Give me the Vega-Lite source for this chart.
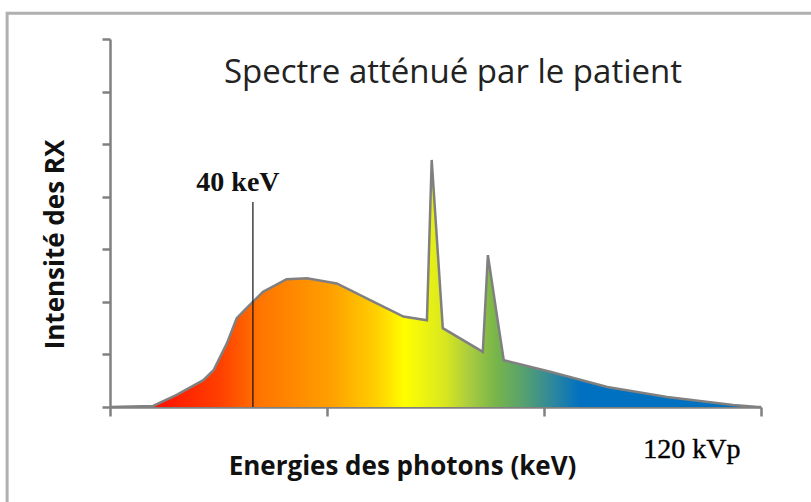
{
  "$schema": "https://vega.github.io/schema/vega-lite/v6.json",
  "width": 651,
  "height": 368,
  "autosize": {"type": "none"},
  "padding": {"left": 110, "top": 39, "right": 50, "bottom": 95},
  "background": "white",
  "config": {"view": {"stroke": null}},
  "layer": [
    {
      "data": {"values": [
        {"energy": 17.5, "intensity": 0},
        {"energy": 24.3, "intensity": 0.02},
        {"energy": 28.0, "intensity": 0.23},
        {"energy": 32.2, "intensity": 0.51},
        {"energy": 33.8, "intensity": 0.70},
        {"energy": 35.9, "intensity": 1.21},
        {"energy": 37.45, "intensity": 1.69},
        {"energy": 39.0, "intensity": 1.88},
        {"energy": 41.6, "intensity": 2.19},
        {"energy": 45.3, "intensity": 2.43},
        {"energy": 48.5, "intensity": 2.45},
        {"energy": 53.2, "intensity": 2.35},
        {"energy": 59.5, "intensity": 1.97},
        {"energy": 63.7, "intensity": 1.72},
        {"energy": 67.4, "intensity": 1.65},
        {"energy": 68.15, "intensity": 4.70},
        {"energy": 69.9, "intensity": 1.50},
        {"energy": 76.2, "intensity": 1.05},
        {"energy": 77.0, "intensity": 2.89},
        {"energy": 78.6, "intensity": 1.60},
        {"energy": 79.5, "intensity": 0.89},
        {"energy": 86.8, "intensity": 0.67},
        {"energy": 95.8, "intensity": 0.38},
        {"energy": 105.2, "intensity": 0.19},
        {"energy": 115.6, "intensity": 0.04},
        {"energy": 119.5, "intensity": 0},
        {"energy": 120, "intensity": 0}
      ]},
      "mark": {
        "type": "area",
        "opacity": 1,
        "fillOpacity": 1,
        "line": {"color": "#808080", "strokeWidth": 2.5},
        "color": {
          "gradient": "linear",
          "x1": 0, "x2": 1, "y1": 0, "y2": 0,
          "stops": [
            {"offset": 0.07, "color": "#ff1000"},
            {"offset": 0.17, "color": "#ff4000"},
            {"offset": 0.23, "color": "#ff7400"},
            {"offset": 0.34, "color": "#ffa000"},
            {"offset": 0.41, "color": "#ffd000"},
            {"offset": 0.453, "color": "#ffff00"},
            {"offset": 0.515, "color": "#d8e620"},
            {"offset": 0.553, "color": "#a8cc40"},
            {"offset": 0.59, "color": "#7ab648"},
            {"offset": 0.637, "color": "#55a070"},
            {"offset": 0.684, "color": "#2a85a0"},
            {"offset": 0.722, "color": "#0070c0"},
            {"offset": 1, "color": "#0070c0"}
          ]
        }
      },
      "encoding": {
        "x": {
          "field": "energy", "type": "quantitative",
          "scale": {"domain": [17.5, 120], "nice": false, "zero": false},
          "axis": {
            "title": "Energies des photons (keV)",
            "values": [17.5, 51.67, 85.83, 120],
            "labels": false, "grid": false,
            "domainColor": "#808080", "domainWidth": 2.5,
            "tickColor": "#808080", "tickWidth": 2.5, "tickSize": 9,
            "titleFont": "Open Sans", "titleFontSize": 26, "titleFontWeight": "bold", "titleColor": "#111",
            "titleX": 292, "titleY": 59, "titleBaseline": "middle"
          }
        },
        "y": {
          "field": "intensity", "type": "quantitative",
          "scale": {"domain": [0, 7], "nice": false},
          "axis": {
            "title": "Intensité des RX",
            "values": [0, 1, 2, 3, 4, 5, 6, 7],
            "labels": false, "grid": false,
            "domainColor": "#808080", "domainWidth": 2.5,
            "tickColor": "#808080", "tickWidth": 2.5, "tickSize": 8,
            "titleFont": "Open Sans", "titleFontSize": 26, "titleFontWeight": "bold", "titleColor": "#111",
            "titleX": -55, "titleY": 205, "titleBaseline": "middle"
          }
        }
      }
    },
    {
      "data": {"values": [{"x0": 1.3, "x1": 140, "y0": -3, "y1": 7.49}]},
      "mark": {"type": "rect", "fill": "transparent", "stroke": "#b0b0b0", "strokeWidth": 3, "clip": false},
      "encoding": {
        "x": {"field": "x0", "type": "quantitative"},
        "x2": {"field": "x1"},
        "y": {"field": "y0", "type": "quantitative"},
        "y2": {"field": "y1"}
      }
    },
    {
      "data": {"values": [{"e": 40, "i0": 0, "i1": 3.9}]},
      "mark": {"type": "rule", "color": "#111", "strokeWidth": 1.2},
      "encoding": {
        "x": {"field": "e", "type": "quantitative"},
        "y": {"field": "i0", "type": "quantitative"},
        "y2": {"field": "i1"}
      }
    },
    {
      "data": {"values": [{"e": 71.5, "i": 6.35, "t": "Spectre atténué par le patient"}]},
      "mark": {"type": "text", "font": "Open Sans", "fontSize": 33, "color": "#222", "align": "center", "baseline": "middle"},
      "encoding": {
        "x": {"field": "e", "type": "quantitative"},
        "y": {"field": "i", "type": "quantitative"},
        "text": {"field": "t"}
      }
    },
    {
      "data": {"values": [
        {"e": 37.65, "i": 4.26, "t": "40 keV"}
      ]},
      "mark": {"type": "text", "font": "Liberation Serif", "fontSize": 28, "fontWeight": "bold", "color": "#111", "align": "center", "baseline": "middle", "clip": false},
      "encoding": {
        "x": {"field": "e", "type": "quantitative"},
        "y": {"field": "i", "type": "quantitative"},
        "text": {"field": "t"}
      }
    },
    {
      "data": {"values": [
        {"e": 109.1, "i": -0.82, "t": "120 kVp"}
      ]},
      "mark": {"type": "text", "font": "Liberation Serif", "fontSize": 28, "fontWeight": "normal", "color": "#000", "stroke": "#000", "strokeWidth": 0.4, "align": "center", "baseline": "middle", "clip": false},
      "encoding": {
        "x": {"field": "e", "type": "quantitative"},
        "y": {"field": "i", "type": "quantitative"},
        "text": {"field": "t"}
      }
    }
  ]
}
